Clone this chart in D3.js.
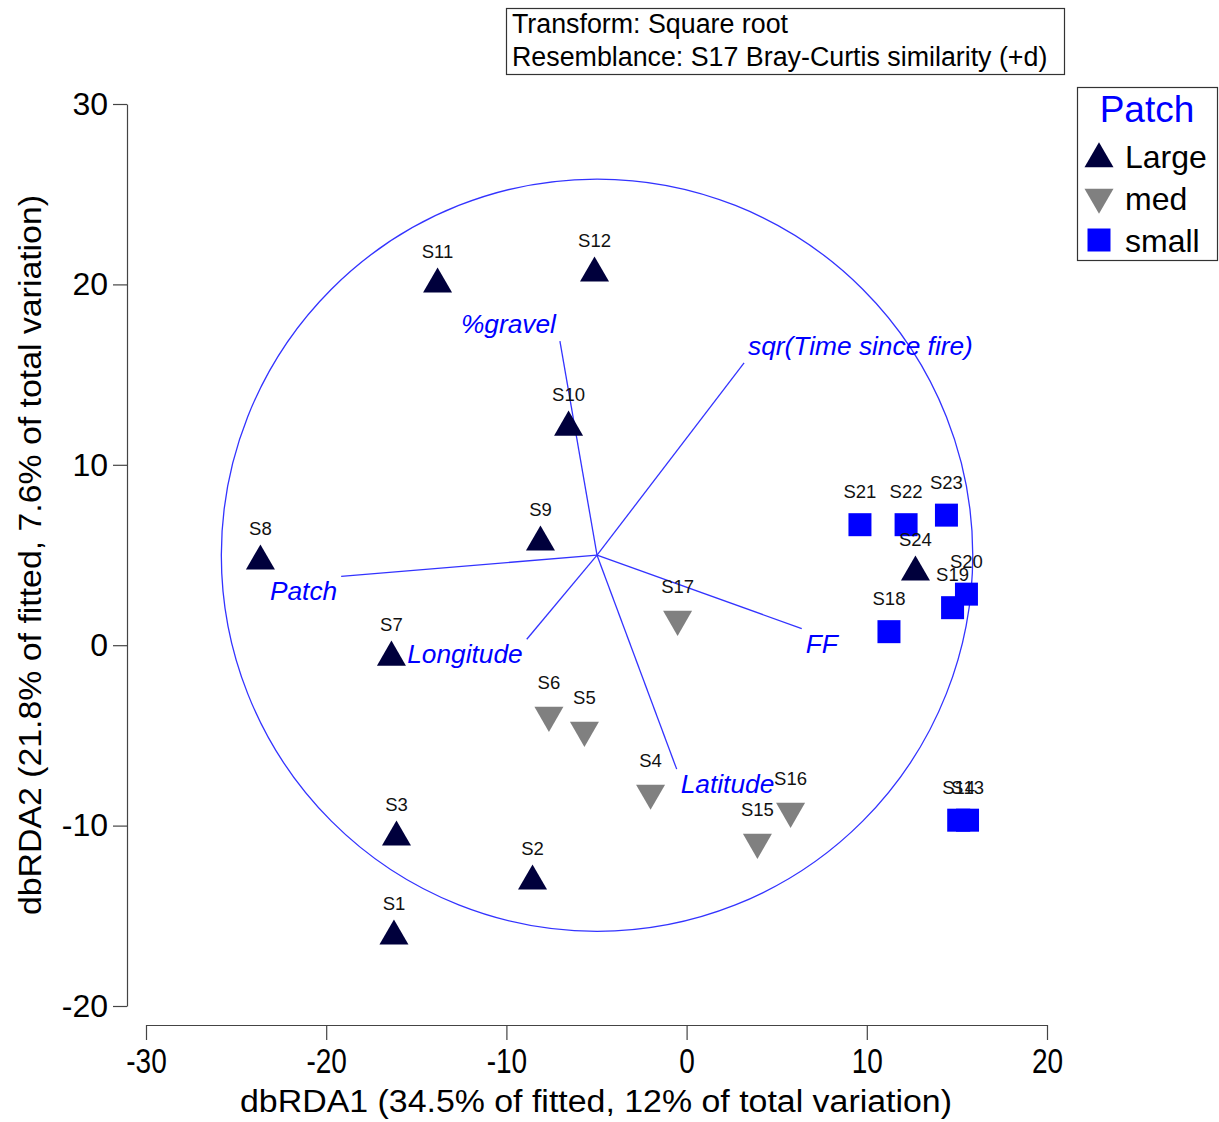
<!DOCTYPE html>
<html>
<head>
<meta charset="utf-8">
<script src="https://cdn.jsdelivr.net/npm/d3@7/dist/d3.min.js"></script>
<style>
  html, body { margin: 0; padding: 0; background: #fff; }
  svg { display: block; font-family: "Liberation Sans", Arial, sans-serif; }
</style>
</head>
<body>
<svg id="chart" width="1219" height="1122"></svg>
<script>
// dbRDA ordination: site scores on the first two axes
const sites = ["S1","S2","S3","S4","S5","S6","S7","S8","S9","S10","S11","S12",
               "S13","S14","S15","S16","S17","S18","S19","S20","S21","S22","S23","S24"];
const patch = ["Large","Large","Large","med","med","med","Large","Large","Large","Large","Large","Large",
               "small","small","med","med","med","small","small","small","small","small","small","Large"];
const dbRDA1 = [-16.24,-8.55,-16.10,-2.00,-5.67,-7.64,-16.38,-23.65,-8.11,-6.55,-13.82,-5.11,
                15.59,15.10,3.93,5.77,-0.50,11.23,14.76,15.53,9.62,12.18,14.42,12.70];
const dbRDA2 = [-16.13,-13.08,-10.64,-8.20,-4.71,-3.88,-0.67,4.66,5.71,12.08,20.01,20.62,
                -9.70,-9.70,-10.92,-9.20,1.44,0.75,2.08,2.83,6.68,6.68,7.21,4.05];

// Predictor vectors (end points, same units as the site scores)
const vectorNames = ["Patch","%gravel","sqr(Time since fire)","Longitude","Latitude","FF"];
const vectorX = [-19.17,-7.03,3.19,-8.87,-0.55,6.39];
const vectorY = [3.82,16.85,15.65,0.33,-6.87,0.92];
const vectorOrigin = [-4.97, 4.99];
const circleRadius = 20.85;

// Axes
const xTicks = [-30,-20,-10,0,10,20];
const yTicks = [-20,-10,0,10,20,30];
const xTitle = "dbRDA1 (34.5% of fitted, 12% of total variation)";
const yTitle = "dbRDA2 (21.8% of fitted, 7.6% of total variation)";

const groups = ["Large","med","small"];
const legendTitle = "Patch";
const infoLines = ["Transform: Square root", "Resemblance: S17 Bray-Curtis similarity (+d)"];

const svg = d3.select("#chart");

const x = d3.scaleLinear().domain([-30, 20]).range([146, 1047]);
const y = d3.scaleLinear().domain([-20, 30]).range([1006, 104]);

const color = d3.scaleOrdinal().domain(groups).range(["#00003c", "#808080", "#0000ff"]);
const triArea = Math.sqrt(3) / 4 * 29 * 29;
const shape = d3.scaleOrdinal().domain(groups).range([
  d3.symbol().type(d3.symbolTriangle).size(triArea)(),
  d3.symbol().type(d3.symbolTriangle).size(triArea)(),
  d3.symbol().type(d3.symbolSquare).size(23 * 23)()
]);
const rotation = d3.scaleOrdinal().domain(groups).range([0, 180, 0]);

// plain hyphen-minus for negative tick values
const tickFmt = d => String(d);

// X axis
const xAxis = svg.append("g")
  .attr("transform", "translate(0,1025)")
  .call(d3.axisBottom(x).tickValues(xTicks).tickSize(15).tickSizeOuter(0).tickPadding(8).tickFormat(tickFmt));
xAxis.select(".domain").attr("stroke", "#444").attr("stroke-width", 1.2);
xAxis.selectAll(".tick line").attr("stroke", "#444").attr("stroke-width", 1.2);
xAxis.selectAll(".tick text")
  .attr("font-size", 35).attr("fill", "#000")
  .attr("font-family", "'Liberation Sans', Arial, sans-serif")
  .attr("transform", "scale(0.8,1)");

// Y axis
const yAxis = svg.append("g")
  .attr("transform", "translate(127,0)")
  .call(d3.axisLeft(y).tickValues(yTicks).tickSize(14).tickSizeOuter(0).tickPadding(5).tickFormat(tickFmt));
yAxis.select(".domain").attr("stroke", "#444").attr("stroke-width", 1.2);
yAxis.selectAll(".tick line").attr("stroke", "#444").attr("stroke-width", 1.2);
yAxis.selectAll(".tick text")
  .attr("font-size", 32).attr("fill", "#000")
  .attr("font-family", "'Liberation Sans', Arial, sans-serif");

// Axis titles
svg.append("text")
  .attr("x", 596).attr("y", 1112)
  .attr("text-anchor", "middle")
  .attr("font-size", 31)
  .attr("textLength", 712).attr("lengthAdjust", "spacingAndGlyphs")
  .text(xTitle);

svg.append("text")
  .attr("transform", "translate(41,555) rotate(-90)")
  .attr("text-anchor", "middle")
  .attr("font-size", 31)
  .attr("textLength", 720).attr("lengthAdjust", "spacingAndGlyphs")
  .text(yTitle);

// Correlation circle
const ox = x(vectorOrigin[0]), oy = y(vectorOrigin[1]);
svg.append("ellipse")
  .attr("cx", ox).attr("cy", oy)
  .attr("rx", x(vectorOrigin[0] + circleRadius) - ox)
  .attr("ry", oy - y(vectorOrigin[1] + circleRadius))
  .attr("fill", "none").attr("stroke", "#3333ff").attr("stroke-width", 1.3);

// Vectors
const vecs = vectorNames.map((n, i) => ({ name: n, vx: vectorX[i], vy: vectorY[i] }));
const vg = svg.append("g");
vg.selectAll("line").data(vecs).join("line")
  .attr("x1", ox).attr("y1", oy)
  .attr("x2", d => x(d.vx)).attr("y2", d => y(d.vy))
  .attr("stroke", "#3333ff").attr("stroke-width", 1.3);

// Sites
const pts = sites.map((s, i) => ({ id: s, g: patch[i], px: dbRDA1[i], py: dbRDA2[i] }));
svg.append("g").selectAll("path").data(pts).join("path")
  .attr("d", d => shape(d.g))
  .attr("transform", d => `translate(${x(d.px)},${y(d.py)}) rotate(${rotation(d.g)})`)
  .attr("fill", d => color(d.g));

svg.append("g").selectAll("text").data(pts).join("text")
  .attr("x", d => x(d.px)).attr("y", d => y(d.py) - 26.5)
  .attr("text-anchor", "middle")
  .attr("font-size", 18.5).attr("fill", "#111")
  .text(d => d.id);

// Vector labels, placed just beyond each vector tip
vg.selectAll("text").data(vecs).join("text")
  .attr("x", d => x(d.vx) + (d.vx > vectorOrigin[0] ? 4 : -4))
  .attr("y", d => y(d.vy) + (d.vy > vectorOrigin[1] ? -8 : 24))
  .attr("text-anchor", d => d.vx > vectorOrigin[0] ? "start" : "end")
  .attr("font-size", 26.3).attr("font-style", "italic").attr("fill", "#0000ff")
  .text(d => d.name);

// Information box
svg.append("rect")
  .attr("x", 506.5).attr("y", 8.5).attr("width", 558).attr("height", 66)
  .attr("fill", "#fff").attr("stroke", "#333").attr("stroke-width", 1.2);
svg.append("g").selectAll("text").data(infoLines).join("text")
  .attr("x", 512).attr("y", (d, i) => 33 + i * 33)
  .attr("font-size", 26.8).attr("fill", "#000")
  .text(d => d);

// Legend
const lg = svg.append("g");
lg.append("rect")
  .attr("x", 1077.5).attr("y", 87.5).attr("width", 140).attr("height", 173)
  .attr("fill", "#fff").attr("stroke", "#333").attr("stroke-width", 1.2);
lg.append("text")
  .attr("x", 1147).attr("y", 122).attr("text-anchor", "middle")
  .attr("font-size", 37).attr("fill", "#0000ff")
  .text(legendTitle);
const rowY = [159, 197, 240];
lg.selectAll("path").data(groups).join("path")
  .attr("d", g => shape(g))
  .attr("transform", (g, i) => `translate(1099,${rowY[i]}) rotate(${rotation(g)})`)
  .attr("fill", g => color(g));
lg.selectAll("text.item").data(groups).join("text")
  .attr("class", "item")
  .attr("x", 1125).attr("y", (g, i) => [168, 210, 252][i])
  .attr("font-size", 32).attr("fill", "#000")
  .text(g => g);
</script>
</body>
</html>
